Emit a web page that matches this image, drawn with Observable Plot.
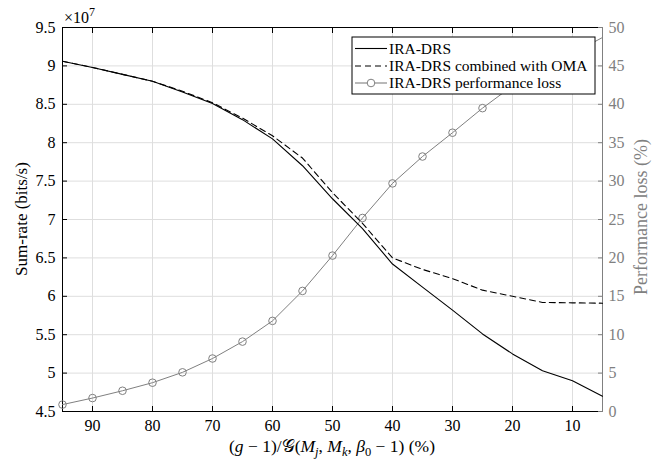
<!DOCTYPE html>
<html><head><meta charset="utf-8">
<script src="https://cdn.jsdelivr.net/npm/d3@7"></script>
<script src="https://cdn.jsdelivr.net/npm/@observablehq/plot@0.6"></script>
<style>
body{margin:0;background:#fff;}
#chart{width:664px;height:466px;}
svg, svg text, svg tspan{font-family:"Liberation Serif","DejaVu Serif",serif !important;}
</style></head><body><div id="chart"></div>
<script>
// x: (g-1)/G(Mj,Mk,beta0-1) in %
const gRatio = [95,90,85,80,75,70,65,60,55,50,45,40,35,30,25,20,15,10,5];
// Sum-rate in units of 1e7 bits/s
const sumRateIRA = [9.06,8.98,8.89,8.80,8.66,8.51,8.30,8.05,7.70,7.27,6.88,6.42,6.12,5.82,5.51,5.25,5.03,4.90,4.70];
const sumRateOMA = [9.06,8.98,8.89,8.80,8.67,8.52,8.32,8.09,7.80,7.35,6.95,6.50,6.35,6.23,6.08,6.00,5.92,5.915,5.91];
// Performance loss in %
const perfLoss = [0.9,1.75,2.7,3.75,5.1,6.9,9.1,11.8,15.7,20.3,25.2,29.7,33.2,36.3,39.5,42.4,44.8,46.6,48.7];
const xTicks = [90,80,70,60,50,40,30,20,10];
const leftTicks = [4.5,5,5.5,6,6.5,7,7.5,8,8.5,9,9.5];
const leftTickLabels = ["4.5","5","5.5","6","6.5","7","7.5","8","8.5","9","9.5"];
const rightTicks = [0,5,10,15,20,25,30,35,40,45,50];
const seriesNames = ["IRA-DRS","IRA-DRS combined with OMA","IRA-DRS performance loss"];

const leftMin = 4.5, leftMax = 9.5, rightMin = 0, rightMax = 50;
const toLeft = v => leftMin + (v - rightMin) * (leftMax - leftMin) / (rightMax - rightMin);

const rows = gRatio.map((g, i) => ({g, ira: sumRateIRA[i], oma: sumRateOMA[i], loss: perfLoss[i]}));
const gray = "#808080";
const gridC = "#dedede";
const rightPos = rightTicks.map(toLeft);

const plot = Plot.plot({
  width: 664, height: 466,
  marginLeft: 62, marginRight: 62, marginTop: 27, marginBottom: 55,
  style: {background: "white", color: "black", overflow: "visible"},
  x: {domain: [95, 5], label: null},
  y: {domain: [leftMin, leftMax], label: null},
  marks: [
    Plot.gridX(xTicks, {stroke: gridC, strokeOpacity: 1}),
    Plot.gridY(leftTicks, {stroke: gridC, strokeOpacity: 1}),
    Plot.frame({stroke: "black"}),
    Plot.ruleX([5], {stroke: gray}),
    // left axis
    Plot.axisY({anchor: "left", ticks: leftTicks, tickSize: 0, tickPadding: 7, tickFormat: d => leftTickLabels[leftTicks.indexOf(d)], label: null, fontSize: 16}),
    Plot.axisY({anchor: "left", ticks: leftTicks, tickSize: -5, tickFormat: () => "", label: null}),
    // right axis
    Plot.axisY({anchor: "right", ticks: rightPos, tickSize: 0, tickPadding: 6, tickFormat: d => String(rightTicks[rightPos.findIndex(t => Math.abs(t - d) < 1e-9)]), label: null, color: gray, fontSize: 16}),
    Plot.axisY({anchor: "right", ticks: rightPos, tickSize: -5, tickFormat: () => "", label: null, stroke: gray}),
    // bottom / top axes
    Plot.axisX({anchor: "bottom", ticks: xTicks, tickSize: 0, tickPadding: 8, tickFormat: d => String(d), label: null, fontSize: 16}),
    Plot.axisX({anchor: "bottom", ticks: xTicks, tickSize: -5, tickFormat: () => "", label: null}),
    Plot.axisX({anchor: "top", ticks: xTicks, tickSize: -5, tickFormat: () => "", label: null}),
    // series
    Plot.lineY(rows, {x: "g", y: d => toLeft(d.loss), stroke: gray, strokeWidth: 1}),
    Plot.dot(rows, {filter: d => d.g > 5, x: "g", y: d => toLeft(d.loss), r: 3.8, stroke: gray, fill: "none", strokeWidth: 1}),
    Plot.lineY(rows, {x: "g", y: "oma", stroke: "black", strokeWidth: 1.1, strokeDasharray: "6,4"}),
    Plot.lineY(rows, {x: "g", y: "ira", stroke: "black", strokeWidth: 1.1})
  ]
});
document.getElementById("chart").appendChild(plot);

const svg = d3.select(plot);
// multiplier
const mt = svg.append("text").attr("x", 64).attr("y", 23).attr("font-size", 16).attr("fill", "black").attr("text-anchor", "start");
mt.append("tspan").text("×10");
mt.append("tspan").attr("dy", -7).attr("font-size", 12).text("7");

// left y label
svg.append("text").attr("transform", "translate(27,219) rotate(-90)").attr("text-anchor", "middle")
  .attr("font-size", 17).attr("fill", "black").text("Sum-rate (bits/s)");
// right y label
svg.append("text").attr("transform", "translate(647,217) rotate(-90)").attr("text-anchor", "middle")
  .attr("font-size", 18).attr("fill", gray).text("Performance loss (%)");

// x label
const xl = svg.append("text").attr("x", 332).attr("y", 452).attr("text-anchor", "middle").attr("font-size", 17.5).attr("fill", "black");
const parts = [["(", ""], ["g", "i"], [" − 1)/", ""], ["𝒢", ""], ["(", ""], ["M", "i"], ["j", "s"], [", ", ""], ["M", "i"], ["k", "s"], [", ", ""], ["β", "i"], ["0", "s0"], [" − 1) (%)", ""]];
let shifted = false;
for (const [t, st] of parts) {
  const sp = xl.append("tspan").text(t);
  const isSub = st === "s" || st === "s0";
  if (isSub && !shifted) { sp.attr("dy", 4); shifted = true; }
  else if (!isSub && shifted) { sp.attr("dy", -4); shifted = false; }
  if (st === "i" || st === "s") sp.attr("font-style", "italic");
  if (isSub) sp.attr("font-size", 12.5);
}

// legend
const lg = svg.append("g").attr("text-anchor", "start");
lg.append("rect").attr("x", 352).attr("y", 37).attr("width", 243).attr("height", 57).attr("fill", "white").attr("stroke", "black").attr("stroke-width", 1);
const ly = [48.5, 66, 83];
const styles = [{stroke: "black", dash: null, marker: false}, {stroke: "black", dash: "6,4", marker: false}, {stroke: gray, dash: null, marker: true}];
seriesNames.forEach((name, i) => {
  const s = styles[i];
  const ln = lg.append("line").attr("x1", 355).attr("x2", 387).attr("y1", ly[i]).attr("y2", ly[i]).attr("stroke", s.stroke).attr("stroke-width", 1.1);
  if (s.dash) ln.attr("stroke-dasharray", s.dash);
  if (s.marker) lg.append("circle").attr("cx", 371).attr("cy", ly[i]).attr("r", 3.8).attr("fill", "white").attr("stroke", gray);
  lg.append("text").attr("x", 389).attr("y", ly[i]).attr("dy", "0.35em").attr("font-size", 15.5).attr("fill", "black").attr("text-anchor", "start").text(name);
});
</script></body></html>
